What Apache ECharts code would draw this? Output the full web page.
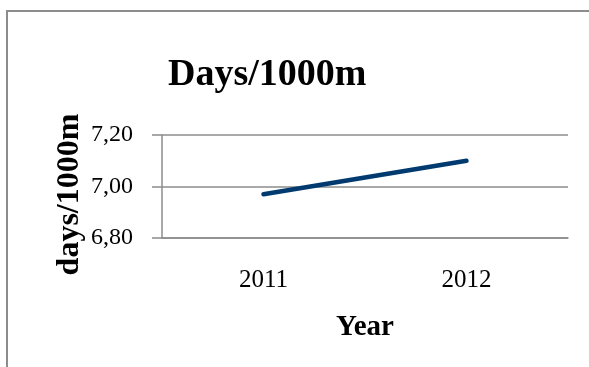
<!DOCTYPE html>
<html>
<head>
<meta charset="utf-8">
<script src="https://cdn.jsdelivr.net/npm/echarts@6/dist/echarts.min.js"></script>
<style>
  html, body { margin: 0; padding: 0; background: #ffffff; }
  #chart { width: 589px; height: 367px; }
</style>
</head>
<body>
<div id="chart"></div>
<script>
// Days per 1000 m, by year
const years = ['2011', '2012'];
const daysPer1000m = [6.97, 7.10];
const yTicks = { min: 6.8, max: 7.2, step: 0.2 };

const serif = '"Liberation Serif", "DejaVu Serif", serif';
const gridGrey = '#8c8c8c';

const chart = echarts.init(document.getElementById('chart'), null, { renderer: 'canvas' });

chart.setOption({
  backgroundColor: '#ffffff',
  animation: false,
  title: {
    text: 'Days/1000m',
    left: 163,
    top: 51,
    textStyle: { fontFamily: serif, fontWeight: 'bold', fontSize: 38, color: '#000000' }
  },
  grid: { left: 162, right: 21, top: 135, bottom: 129, containLabel: false },
  xAxis: {
    type: 'category',
    data: years,
    boundaryGap: true,
    name: 'Year',
    nameLocation: 'middle',
    nameGap: 75,
    nameTextStyle: { fontFamily: serif, fontWeight: 'bold', fontSize: 29, color: '#000000' },
    axisLine: { show: true, lineStyle: { color: gridGrey, width: 1.5 } },
    axisTick: { show: false },
    axisLabel: { fontFamily: serif, fontSize: 25, color: '#000000', margin: 30 },
    splitLine: { show: false }
  },
  yAxis: {
    type: 'value',
    min: yTicks.min,
    max: yTicks.max,
    interval: yTicks.step,
    name: 'days/1000m',
    nameLocation: 'middle',
    nameGap: 76,
    nameMoveOverlap: false,
    nameTextStyle: { fontFamily: serif, fontWeight: 'bold', fontSize: 32, color: '#000000', padding: [0, 16, 0, 0] },
    axisLine: { show: true, lineStyle: { color: gridGrey, width: 1.5 } },
    axisTick: { show: true, inside: false, length: 10, lineStyle: { color: gridGrey, width: 1.5 } },
    axisLabel: {
      fontFamily: serif, fontSize: 24, color: '#000000', margin: 29,
      padding: [3, 0, 0, 0],
      formatter: v => v.toFixed(2).replace('.', ',')
    },
    splitLine: { show: true, lineStyle: { color: gridGrey, width: 1.5 } }
  },
  series: [{
    type: 'line',
    data: daysPer1000m,
    symbol: 'none',
    lineStyle: { color: '#003a6e', width: 4.5, cap: 'round' }
  }],
  graphic: [{
    type: 'polyline',
    shape: { points: [[7, 370], [7, 11], [595, 11]] },
    style: { stroke: '#8c8c8c', lineWidth: 2, fill: null }
  }]
});
</script>
</body>
</html>
